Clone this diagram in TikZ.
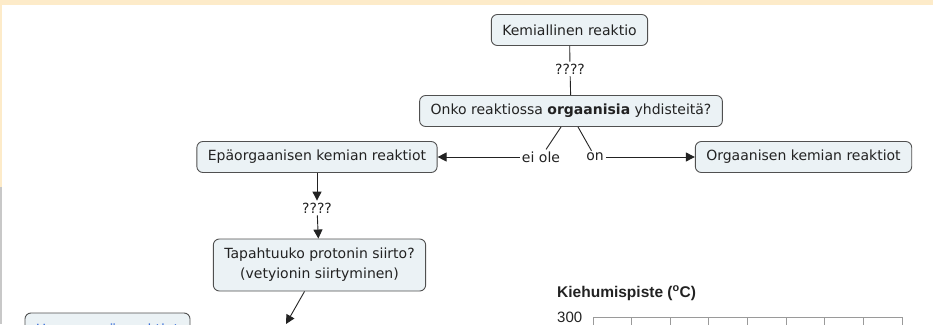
\documentclass[tikz,border=0pt]{standalone}
\usepackage{fontspec}
\setmainfont{DejaVu Sans}
\newfontfamily\chartfont{Liberation Sans}
\usetikzlibrary{arrows.meta, positioning}
\definecolor{band}{HTML}{FDEBC9}
\definecolor{edge}{HTML}{C8C8C8}
\definecolor{boxfill}{HTML}{EBF2F5}
\definecolor{boxline}{HTML}{505050}
\definecolor{ink}{HTML}{222222}
\definecolor{linkblue}{HTML}{3A6FD8}
\definecolor{gridgrey}{HTML}{9A9A9A}
\tikzset{
  concept/.style={draw=boxline, fill=boxfill, rounded corners=6pt,
    line width=0.9pt, font=\fontsize{14}{20}\selectfont, text=ink,
    inner xsep=11pt, minimum height=31pt, align=center},
  linkword/.style={font=\fontsize{14}{16}\selectfont, text=ink, inner sep=2pt},
  link/.style={line width=0.9pt, ink},
  linkarr/.style={link, -{Triangle[length=9pt,width=9pt]}},
}

\begin{document}
\begin{tikzpicture}[x=1pt, y=-1pt]
  \clip (0,0) rectangle (933,324);
  % Page edges
  \fill[band] (0,0) rectangle (933,5);
  \fill[band] (0,5) rectangle (2,187);
  \fill[edge] (0,187) rectangle (2,324);
  % Concepts
  \node[concept] (kem) at (569.5,30) {Kemiallinen reaktio};
  \node[linkword] (q1) at (570,69) {????};
  \node[concept] (onko) at (571,111)
    {Onko reaktiossa \textbf{orgaanisia} yhdisteitä?};
  \node[linkword] (eiole) at (541,157) {ei ole};
  \node[linkword] (on) at (595,157) {on};
  \node[concept] (epa) at (317,157) {Epäorgaanisen kemian reaktiot};
  \node[concept] (org) at (803.5,157) {Orgaanisen kemian reaktiot};
  \node[linkword] (q2) at (317,208) {????};
  \node[concept, minimum height=52pt] (tap) at (319.5,265)
    {Tapahtuuko protonin siirto?\\(vetyionin siirtyminen)};
  \node[concept, text=linkblue, minimum height=36pt] (happo) at (107.5,331)
    {Happo-emäsreaktiot};
  \coordinate (tapend) at (286,324);
  % Links
  \draw[link] (kem) -- (q1);
  \draw[link] (q1) -- (onko);
  \draw[link] ([xshift=-10pt]onko.south) -- (eiole);
  \draw[link] ([xshift=7pt]onko.south) -- (on);
  \draw[linkarr] (eiole) -- (epa);
  \draw[linkarr] (on) -- (org);
  \draw[linkarr] (epa) -- (q2);
  \draw[linkarr] (q2) -- (tap);
  \draw[linkarr] ([xshift=-15pt]tap.south) -- (tapend);
  % Boiling point chart
  \node[font=\chartfont\bfseries\fontsize{15.5}{18}\selectfont, text=ink,
        anchor=west, inner sep=0pt] (title) at (557,293)
    {Kiehumispiste (\textsuperscript{o}C)};
  \node[font=\chartfont\fontsize{15}{18}\selectfont, text=ink,
        anchor=west, inner sep=0pt] (tick300) at (557,317) {300};
  \draw[gridgrey, line width=0.8pt] (593,317) -- (902,317);
  \foreach \i in {0,...,8}
    \draw[gridgrey, line width=0.8pt] ({593+38.625*\i},317) -- ({593+38.625*\i},330);
\end{tikzpicture}
\end{document}
